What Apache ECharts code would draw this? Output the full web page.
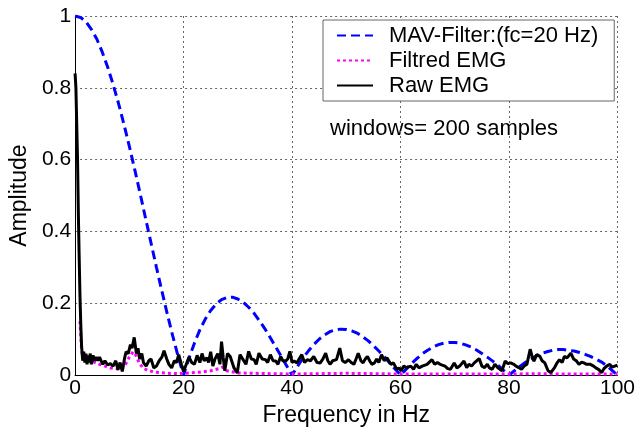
<!DOCTYPE html>
<html>
<head>
<meta charset="utf-8">
<script src="https://cdn.jsdelivr.net/npm/echarts@6/dist/echarts.min.js"></script>
<style>
  html, body { margin: 0; padding: 0; background: #fff; }
  #chart { width: 638px; height: 432px; }
</style>
</head>
<body>
<div id="chart"></div>
<script>
var xTicks = [0, 20, 40, 60, 80, 100];
var yTicks = [0, 0.2, 0.4, 0.6, 0.8, 1];

// MAV filter response, one value per Hz (0..100)
var mavAmp = [
  1.000, 0.996, 0.984, 0.963, 0.936, 0.900, 0.858, 0.810, 0.757, 0.699,
  0.637, 0.572, 0.505, 0.436, 0.368, 0.300, 0.234, 0.170, 0.109, 0.052,
  0.000, 0.047, 0.089, 0.126, 0.156, 0.180, 0.198, 0.210, 0.216, 0.217,
  0.212, 0.203, 0.189, 0.172, 0.151, 0.129, 0.104, 0.078, 0.052, 0.026,
  0.000, 0.024, 0.047, 0.067, 0.085, 0.100, 0.112, 0.121, 0.126, 0.128,
  0.127, 0.123, 0.117, 0.107, 0.096, 0.082, 0.067, 0.051, 0.034, 0.017,
  0.000, 0.016, 0.032, 0.046, 0.059, 0.069, 0.078, 0.085, 0.089, 0.091,
  0.091, 0.089, 0.084, 0.078, 0.070, 0.060, 0.050, 0.039, 0.027, 0.013,
  0.000, 0.012, 0.024, 0.035, 0.045, 0.053, 0.060, 0.065, 0.069, 0.071,
  0.071, 0.069, 0.067, 0.063, 0.058, 0.052, 0.045, 0.037, 0.026, 0.013,
  0.000
];

var rawFreq = [
  0, 0.15, 0.3, 0.45, 0.6, 0.75, 0.9, 1.05, 1.2, 1.4, 1.6, 1.8, 2.0, 2.2, 2.4, 2.6, 2.8, 3.0, 3.3, 3.6,
  3.9, 4.2, 4.5, 4.8, 5.1, 5.5, 6.0, 6.5, 7.0, 7.5, 7.9, 8.3, 8.7, 9.1, 9.4, 9.8, 10.2, 10.5, 10.9, 11.3,
  11.6, 11.9, 12.3, 12.6, 13.1, 13.6, 14.0, 14.5, 15.0, 15.5, 16.0, 16.4, 16.9, 17.3, 17.8, 18.3, 18.7, 19.1, 19.6, 20.0,
  20.5, 21.0, 21.5, 22.0, 22.5, 23.0, 23.4, 23.8, 24.3, 24.6, 25.0, 25.4, 25.8, 26.3, 26.7, 27.0, 27.3, 27.6, 28.1, 28.6,
  29.3, 29.9, 30.4, 31.1, 31.5, 32.0, 32.5, 33.0, 33.4, 33.9, 34.5, 35.1, 35.5, 36.0, 36.5, 37.0, 37.4, 37.9, 38.3, 38.8,
  39.2, 39.6, 40.0, 40.4, 40.9, 41.3, 41.8, 42.3, 42.8, 43.4, 44.0, 44.6, 45.2, 45.7, 46.2, 46.6, 47.0, 47.5, 48.2, 48.8,
  49.3, 49.8, 50.4, 50.9, 51.4, 51.8, 52.2, 52.7, 53.1, 53.5, 53.9, 54.3, 54.7, 55.2, 55.6, 56.0, 56.5, 57.0, 57.5, 58.2,
  58.7, 59.3, 59.7, 60.1, 60.6, 61.1, 61.9, 62.4, 62.9, 63.4, 64.0, 64.9, 65.8, 66.3, 66.8, 67.3, 68.2, 68.7, 69.2, 69.9,
  70.4, 70.9, 71.7, 72.2, 72.6, 73.1, 73.6, 74.5, 75.0, 75.5, 76.0, 76.4, 76.9, 77.4, 77.9, 78.7, 79.3, 79.8, 80.3, 80.9,
  81.3, 81.8, 82.3, 82.8, 83.3, 83.9, 84.3, 84.6, 85.1, 85.7, 86.1, 86.6, 87.2, 87.7, 88.4, 88.9, 89.3, 89.8, 90.2, 90.7,
  91.4, 91.9, 92.4, 92.9, 93.4, 93.8, 94.3, 95.0, 95.6, 96.0, 96.5, 97.1, 97.5, 98.0, 98.6, 99.0, 99.5, 100
];
var rawAmp = [
  0.84, 0.80, 0.70, 0.60, 0.45, 0.33, 0.22, 0.14, 0.08, 0.040, 0.065, 0.035, 0.060, 0.030, 0.055, 0.035, 0.060, 0.030, 0.055, 0.040,
  0.050, 0.040, 0.050, 0.045, 0.030, 0.040, 0.028, 0.032, 0.025, 0.040, 0.015, 0.035, 0.010, 0.045, 0.065, 0.060, 0.085, 0.075, 0.105, 0.060,
  0.075, 0.045, 0.060, 0.035, 0.025, 0.040, 0.045, 0.020, 0.025, 0.040, 0.050, 0.068, 0.045, 0.030, 0.020, 0.040, 0.035, 0.057, 0.030, 0.010,
  0.030, 0.050, 0.035, 0.030, 0.055, 0.035, 0.060, 0.040, 0.048, 0.035, 0.065, 0.025, 0.045, 0.060, 0.030, 0.093, 0.050, 0.012, 0.060, 0.052,
  0.020, 0.006, 0.057, 0.040, 0.030, 0.066, 0.045, 0.043, 0.030, 0.061, 0.045, 0.043, 0.035, 0.057, 0.040, 0.039, 0.030, 0.052, 0.040, 0.039,
  0.045, 0.066, 0.035, 0.039, 0.034, 0.045, 0.057, 0.035, 0.043, 0.040, 0.052, 0.035, 0.034, 0.045, 0.061, 0.040, 0.030, 0.040, 0.043, 0.075,
  0.040, 0.035, 0.043, 0.035, 0.030, 0.045, 0.061, 0.040, 0.034, 0.045, 0.052, 0.040, 0.030, 0.034, 0.045, 0.035, 0.057, 0.040, 0.048, 0.030,
  0.034, 0.016, 0.020, 0.012, 0.025, 0.021, 0.025, 0.016, 0.030, 0.020, 0.025, 0.030, 0.043, 0.030, 0.035, 0.030, 0.025, 0.018, 0.016, 0.034,
  0.020, 0.025, 0.039, 0.021, 0.030, 0.025, 0.034, 0.046, 0.025, 0.021, 0.030, 0.020, 0.016, 0.030, 0.021, 0.012, 0.039, 0.032, 0.034, 0.030,
  0.025, 0.021, 0.016, 0.025, 0.030, 0.072, 0.050, 0.039, 0.057, 0.052, 0.040, 0.034, 0.012, 0.007, 0.021, 0.035, 0.043, 0.035, 0.052, 0.048,
  0.061, 0.045, 0.040, 0.030, 0.036, 0.034, 0.030, 0.030, 0.025, 0.020, 0.016, 0.007, 0.018, 0.025, 0.030, 0.022, 0.025, 0.028
];

var filtFreq = [0.9, 1.2, 1.5, 2.5, 3.5, 4.5, 5.5, 6.5, 7.5, 8.5, 9.3, 10.0, 10.7, 11.2, 11.8, 12.5, 13.5, 15, 17,
  19, 21, 23, 25, 26.5, 27.2, 28, 30, 33, 36, 40, 45, 50, 55, 60, 65, 70, 75, 80, 85, 90, 95, 100];
var filtAmp = [0.15, 0.07, 0.045, 0.042, 0.036, 0.030, 0.025, 0.020, 0.018, 0.015, 0.030, 0.050, 0.065, 0.055, 0.035, 0.020, 0.012, 0.008, 0.005,
  0.004, 0.006, 0.008, 0.012, 0.018, 0.022, 0.012, 0.006, 0.005, 0.004, 0.003, 0.004, 0.005, 0.004, 0.003, 0.003, 0.003, 0.003, 0.003, 0.004, 0.003, 0.003, 0.003];

function pairs(xs, ys) {
  var res = [];
  for (var i = 0; i < ys.length; i++) {
    res.push([xs ? xs[i] : i, ys[i]]);
  }
  return res;
}

var font = 'Liberation Sans, Arial, sans-serif';
var myChart = echarts.init(document.getElementById('chart'));

var option = {
  animation: false,
  backgroundColor: '#fff',
  grid: { left: 73, right: 18, top: 16, bottom: 46 },
  xAxis: {
    type: 'value',
    min: xTicks[0],
    max: xTicks[xTicks.length - 1],
    interval: xTicks[1] - xTicks[0],
    name: 'Frequency in Hz',
    nameLocation: 'middle',
    nameGap: 8,
    nameTextStyle: { fontFamily: font, fontSize: 23, color: '#000' },
    axisLine: { lineStyle: { color: '#000', width: 1 } },
    axisTick: { show: false },
    axisLabel: { fontFamily: font, fontSize: 21, color: '#000', margin: 3 },
    splitLine: { show: true, lineStyle: { type: [2, 3], color: '#666', width: 1 } }
  },
  yAxis: {
    type: 'value',
    min: yTicks[0],
    max: yTicks[yTicks.length - 1],
    interval: 0.2,
    name: 'Amplitude',
    nameLocation: 'middle',
    nameGap: 39,
    nameTextStyle: { fontFamily: font, fontSize: 23, color: '#000' },
    axisLine: { show: true, lineStyle: { color: '#000', width: 1 } },
    axisTick: { show: false },
    axisLabel: { fontFamily: font, fontSize: 21, color: '#000', margin: 4 },
    splitLine: { show: true, lineStyle: { type: [2, 3], color: '#666', width: 1 } }
  },
  legend: {
    orient: 'vertical',
    left: 323,
    top: 20,
    backgroundColor: '#fff',
    borderColor: '#666',
    borderWidth: 1,
    borderRadius: 0,
    padding: [3, 16, 3, 13],
    itemWidth: 36,
    itemHeight: 14,
    itemGap: 0,
    itemStyle: { opacity: 0 },
    textStyle: { fontFamily: font, fontSize: 22, color: '#000', lineHeight: 25, padding: [0, 0, 0, 11] },
    data: ['MAV-Filter:(fc=20 Hz)', 'Filtred EMG', 'Raw EMG']
  },
  graphic: [{
    type: 'text',
    left: 330,
    top: 118,
    style: { text: 'windows= 200 samples', font: '22px ' + font, fill: '#000' }
  }],
  series: [
    {
      name: 'MAV-Filter:(fc=20 Hz)',
      type: 'line',
      symbol: 'none',
      data: pairs(null, mavAmp),
      lineStyle: { color: '#0000ff', width: 3, type: [9, 5] },
      itemStyle: { color: '#0000ff' },
      z: 2
    },
    {
      name: 'Filtred EMG',
      type: 'line',
      symbol: 'none',
      data: pairs(filtFreq, filtAmp),
      lineStyle: { color: '#ff00ff', width: 3, type: [3, 3] },
      itemStyle: { color: '#ff00ff' },
      z: 3
    },
    {
      name: 'Raw EMG',
      type: 'line',
      symbol: 'none',
      data: pairs(rawFreq, rawAmp),
      lineStyle: { color: '#000', width: 3 },
      itemStyle: { color: '#000' },
      z: 4
    }
  ]
};

myChart.setOption(option);
</script>
</body>
</html>
